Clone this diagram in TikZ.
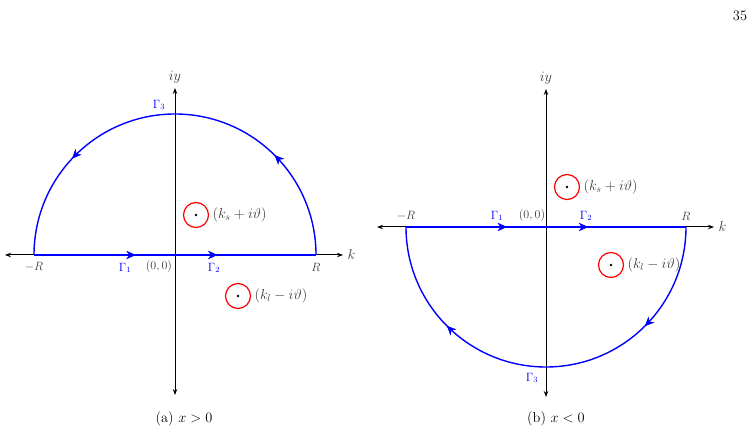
\documentclass[tikz,border=0pt]{standalone}
\usepackage{tikz}
\usetikzlibrary{positioning,calc,decorations.markings,arrows.meta}
\definecolor{mygray}{RGB}{60,60,60}

\begin{document}
\begin{tikzpicture}[x=1pt,y=-1pt,
  axis/.style={line width=1pt,black,{Stealth[length=6pt]}-{Stealth[length=6pt]}},
  contour/.style={blue,line width=1.4pt},
  arr/.style={postaction={decorate},decoration={markings,mark=at position #1 with {\arrow{Stealth[length=9pt,width=8pt]}}}},
  pole/.style={circle,draw=red,line width=1.2pt,minimum size=25pt,inner sep=0pt},
  lbl/.style={font=\large,text=mygray},
  glbl/.style={font=\large,text=blue},
  plbl/.style={font=\Large,text=mygray,right=0pt of #1}
]
\useasboundingbox (0,0) rectangle (756,435);
\node[font=\Large] at (740,16) {35};

% (a) x > 0
\begin{scope}[shift={(175,255)}]
  \coordinate (O) at (0,0);
  \coordinate (kl) at (-170,0);
  \coordinate (kr) at (168,0);
  \coordinate (yt) at (0,-167);
  \coordinate (yb) at (0,140);
  \coordinate (mR) at (-141,0);
  \coordinate (pR) at (141,0);
  \draw[axis] (kl) -- (kr);
  \draw[axis] (yb) -- (yt);
  \draw[contour,arr=0.36,arr=0.65] (mR) -- (pR);
  \draw[contour,arr=0.25,arr=0.76] (pR) arc[start angle=0,end angle=-180,radius=141];
  \node[lbl,font=\Large,right=1pt of kr] {$k$};
  \node[lbl,font=\Large,above=1pt of yt] {$iy$};
  \node[lbl] at (-141,12) {$-R$};
  \node[lbl] at (141,12) {$R$};
  \node[lbl] at (-16,12) {$(0,0)$};
  \node[glbl] at (-50,13) {$\Gamma_1$};
  \node[glbl] at (39,13) {$\Gamma_2$};
  \node[glbl] at (-16,-150) {$\Gamma_3$};
  \node[pole] (ps) at (21,-40) {}; \fill (ps) circle (1.3);
  \node[plbl=ps] {$(k_s+i\vartheta)$};
  \node[pole] (pl) at (63,41) {}; \fill (pl) circle (1.3);
  \node[plbl=pl] {$(k_l-i\vartheta)$};
\end{scope}
\node[font=\Large] at (184,419) {(a) $x>0$};

% (b) x < 0
\begin{scope}[shift={(546,227)}]
  \coordinate (O) at (0,0);
  \coordinate (kl) at (-169,0);
  \coordinate (kr) at (168,0);
  \coordinate (yt) at (0,-138);
  \coordinate (yb) at (0,170);
  \coordinate (mR) at (-140,0);
  \coordinate (pR) at (140,0);
  \draw[axis] (kl) -- (kr);
  \draw[axis] (yb) -- (yt);
  \draw[contour,arr=0.36,arr=0.65] (mR) -- (pR);
  \draw[contour,arr=0.25,arr=0.75] (pR) arc[start angle=0,end angle=180,radius=140];
  \node[lbl,font=\Large,right=1pt of kr] {$k$};
  \node[lbl,font=\Large,above=1pt of yt] {$iy$};
  \node[lbl] at (-140,-11) {$-R$};
  \node[lbl] at (140,-11) {$R$};
  \node[lbl] at (-14,-11) {$(0,0)$};
  \node[glbl] at (-49,-11) {$\Gamma_1$};
  \node[glbl] at (40,-11) {$\Gamma_2$};
  \node[glbl] at (-14,151) {$\Gamma_3$};
  \node[pole] (ps) at (21,-40) {}; \fill (ps) circle (1.3);
  \node[plbl=ps] {$(k_s+i\vartheta)$};
  \node[pole] (pl) at (65,38) {}; \fill (pl) circle (1.3);
  \node[plbl=pl] {$(k_l-i\vartheta)$};
\end{scope}
\node[font=\Large] at (556,419) {(b) $x<0$};
\end{tikzpicture}
\end{document}
